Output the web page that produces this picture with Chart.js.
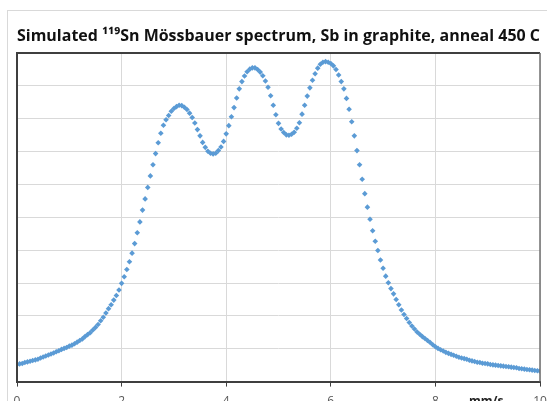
<!DOCTYPE html>
<html>
<head>
<meta charset="utf-8">
<script src="https://cdn.jsdelivr.net/npm/chart.js@4.4.1/dist/chart.umd.min.js"></script>
<style>
    html, body { margin: 0; padding: 0; background: #fff; overflow: hidden; width: 547px; height: 401px; }
    #frame { position: absolute; left: 7px; top: 10px; width: 600px; height: 500px; border: 1px solid #d9d9d9; }
    #spectrum { position: absolute; left: 0; top: 0; }
</style>
</head>
<body>
<div id="frame"></div>
<canvas id="spectrum" width="580" height="420"></canvas>
<script>
// velocity grid, mm/s (0 to 10 in 0.05 steps)
const velocity = [
    0.00, 0.05, 0.10, 0.15, 0.20, 0.25, 0.30, 0.35, 0.40, 0.45,
    0.50, 0.55, 0.60, 0.65, 0.70, 0.75, 0.80, 0.85, 0.90, 0.95,
    1.00, 1.05, 1.10, 1.15, 1.20, 1.25, 1.30, 1.35, 1.40, 1.45,
    1.50, 1.55, 1.60, 1.65, 1.70, 1.75, 1.80, 1.85, 1.90, 1.95,
    2.00, 2.05, 2.10, 2.15, 2.20, 2.25, 2.30, 2.35, 2.40, 2.45,
    2.50, 2.55, 2.60, 2.65, 2.70, 2.75, 2.80, 2.85, 2.90, 2.95,
    3.00, 3.05, 3.10, 3.15, 3.20, 3.25, 3.30, 3.35, 3.40, 3.45,
    3.50, 3.55, 3.60, 3.65, 3.70, 3.75, 3.80, 3.85, 3.90, 3.95,
    4.00, 4.05, 4.10, 4.15, 4.20, 4.25, 4.30, 4.35, 4.40, 4.45,
    4.50, 4.55, 4.60, 4.65, 4.70, 4.75, 4.80, 4.85, 4.90, 4.95,
    5.00, 5.05, 5.10, 5.15, 5.20, 5.25, 5.30, 5.35, 5.40, 5.45,
    5.50, 5.55, 5.60, 5.65, 5.70, 5.75, 5.80, 5.85, 5.90, 5.95,
    6.00, 6.05, 6.10, 6.15, 6.20, 6.25, 6.30, 6.35, 6.40, 6.45,
    6.50, 6.55, 6.60, 6.65, 6.70, 6.75, 6.80, 6.85, 6.90, 6.95,
    7.00, 7.05, 7.10, 7.15, 7.20, 7.25, 7.30, 7.35, 7.40, 7.45,
    7.50, 7.55, 7.60, 7.65, 7.70, 7.75, 7.80, 7.85, 7.90, 7.95,
    8.00, 8.05, 8.10, 8.15, 8.20, 8.25, 8.30, 8.35, 8.40, 8.45,
    8.50, 8.55, 8.60, 8.65, 8.70, 8.75, 8.80, 8.85, 8.90, 8.95,
    9.00, 9.05, 9.10, 9.15, 9.20, 9.25, 9.30, 9.35, 9.40, 9.45,
    9.50, 9.55, 9.60, 9.65, 9.70, 9.75, 9.80, 9.85, 9.90, 9.95,
    10.00
];

// simulated absorption (arbitrary units)
const absorption = [
    0.52, 0.54, 0.55, 0.58, 0.60, 0.62, 0.64, 0.66, 0.68, 0.72,
    0.75, 0.78, 0.81, 0.84, 0.87, 0.91, 0.94, 0.98, 1.01, 1.04,
    1.08, 1.11, 1.15, 1.20, 1.25, 1.30, 1.37, 1.43, 1.49, 1.57,
    1.65, 1.74, 1.85, 1.96, 2.09, 2.22, 2.34, 2.48, 2.62, 2.79,
    2.99, 3.19, 3.41, 3.65, 3.91, 4.20, 4.53, 4.86, 5.22, 5.56,
    5.91, 6.26, 6.60, 6.94, 7.27, 7.56, 7.80, 7.97, 8.10, 8.23,
    8.31, 8.37, 8.41, 8.40, 8.35, 8.28, 8.17, 8.04, 7.87, 7.67,
    7.48, 7.28, 7.13, 7.01, 6.95, 6.93, 6.95, 7.03, 7.14, 7.31,
    7.54, 7.79, 8.06, 8.34, 8.63, 8.91, 9.13, 9.30, 9.43, 9.51,
    9.55, 9.55, 9.50, 9.42, 9.31, 9.15, 8.96, 8.70, 8.41, 8.12,
    7.86, 7.69, 7.58, 7.51, 7.50, 7.53, 7.59, 7.71, 7.88, 8.14,
    8.41, 8.69, 8.94, 9.17, 9.37, 9.54, 9.66, 9.72, 9.74, 9.72,
    9.68, 9.61, 9.50, 9.33, 9.13, 8.91, 8.62, 8.29, 7.91, 7.48,
    7.03, 6.60, 6.16, 5.72, 5.31, 4.94, 4.59, 4.27, 3.99, 3.70,
    3.45, 3.21, 3.01, 2.83, 2.67, 2.50, 2.34, 2.18, 2.04, 1.92,
    1.80, 1.69, 1.60, 1.51, 1.44, 1.37, 1.31, 1.25, 1.19, 1.12,
    1.06, 1.01, 0.97, 0.93, 0.89, 0.86, 0.83, 0.80, 0.77, 0.74,
    0.72, 0.70, 0.68, 0.65, 0.63, 0.61, 0.59, 0.58, 0.56, 0.55,
    0.54, 0.52, 0.51, 0.50, 0.49, 0.48, 0.47, 0.46, 0.45, 0.44,
    0.43, 0.42, 0.40, 0.39, 0.38, 0.37, 0.36, 0.35, 0.34, 0.33,
    0.32
];

const xTicks = [0, 2, 4, 6, 8, 10];
const titleText = 'Simulated \u00B9\u00B9\u2079Sn M\u00F6ssbauer spectrum, Sb in graphite, anneal 450 C';
const unitLabel = 'mm/s';

// frame round the plot area + the unit label near the axis end
const plotFrame = {
    id: 'plotFrame',
    afterDraw(chart) {
        const { ctx, chartArea: a, scales } = chart;
        ctx.save();
        ctx.strokeStyle = '#3f3f3f';
        ctx.lineWidth = 2;
        ctx.beginPath();
        ctx.moveTo(a.left, a.bottom);
        ctx.lineTo(a.left, a.top);
        ctx.lineTo(a.right, a.top);
        ctx.stroke();
        ctx.strokeStyle = '#6f6f6f';
        ctx.lineWidth = 1.5;
        ctx.beginPath();
        ctx.moveTo(a.right, a.top);
        ctx.lineTo(a.right, a.bottom);
        ctx.stroke();

        ctx.fillStyle = '#222';
        ctx.font = 'bold 12px "Open Sans"';
        ctx.textAlign = 'center';
        ctx.textBaseline = 'middle';
        ctx.fillText(unitLabel, scales.x.getPixelForValue(8.97), a.bottom + 20);
        ctx.restore();
    }
};

const points = velocity.map((v, i) => ({ x: v, y: absorption[i] }));

new Chart(document.getElementById('spectrum'), {
    type: 'scatter',
    data: {
        datasets: [{
            data: points,
            pointStyle: 'rectRot',
            pointRadius: 2.8,
            backgroundColor: '#5b9bd5',
            borderColor: '#5b9bd5',
            borderWidth: 0
        }]
    },
    options: {
        responsive: false,
        animation: false,
        layout: { padding: { left: 17, right: 40, top: 0, bottom: 3 } },
        plugins: {
            legend: { display: false },
            tooltip: { enabled: false },
            title: {
                display: true,
                text: titleText,
                color: '#111',
                font: { family: 'Open Sans', size: 16.7, weight: 'bold', lineHeight: 1.2 },
                padding: { top: 26, bottom: 7 }
            }
        },
        scales: {
            x: {
                type: 'linear',
                min: 0,
                max: 10,
                afterBuildTicks: (axis) => { axis.ticks = xTicks.map(v => ({ value: v })); },
                ticks: { color: '#595959', font: { family: 'Open Sans', size: 12 }, padding: 8 },
                grid: { color: '#d9d9d9', tickColor: '#3f3f3f', tickLength: 5 },
                border: { color: '#3f3f3f', width: 2 }
            },
            y: {
                min: 0,
                max: 10,
                ticks: { display: false, stepSize: 1 },
                grid: { color: '#d9d9d9', drawTicks: false },
                border: { display: false }
            }
        }
    },
    plugins: [plotFrame]
});
</script>
</body>
</html>
